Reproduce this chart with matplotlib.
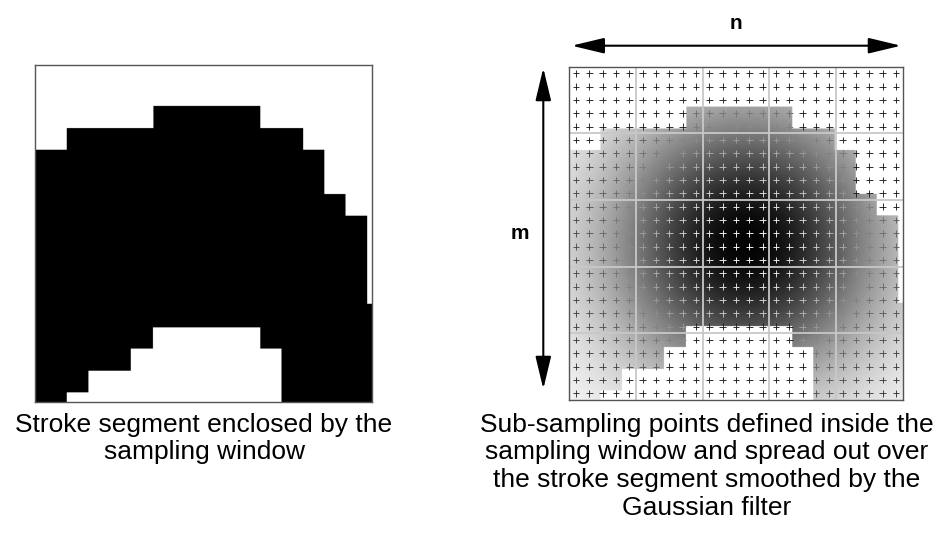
import numpy as np
import matplotlib
matplotlib.use('Agg')
import matplotlib.pyplot as plt
from matplotlib.patches import FancyArrowPatch, ArrowStyle

plt.rcParams['font.family'] = ['Liberation Sans', 'DejaVu Sans']

# ---- data: stroke segment profile inside the sampling window (fractions of window) ----
top_edges = [0.0, 0.094, 0.351, 0.668, 0.796, 0.858, 0.922, 0.986, 1.0]
top_depth = [0.252, 0.187, 0.121, 0.187, 0.251, 0.383, 0.447, 0.709]
bottom_edges = [0.094, 0.158, 0.285, 0.350, 0.668, 0.732]
bottom_height = [0.028, 0.093, 0.158, 0.222, 0.158]

n_points = 25          # sub-sampling points per side
block = 5              # points per major cell
gauss_center = (0.53, 0.53)
gauss_sigma = 0.29
gauss_peak = 0.99

left_caption = ["Stroke segment enclosed by the", "sampling window"]
right_caption = ["Sub-sampling points defined inside the",
                 "sampling window and spread out over",
                 "the stroke segment smoothed by the",
                 "Gaussian filter"]
label_n = "n"
label_m = "m"

W, H = 942, 533


def stroke_mask(u, v):
    td = np.array(top_depth)
    ti = np.clip(np.searchsorted(top_edges, u, side='right') - 1, 0, len(td) - 1)
    white_top = v < td[ti]
    bh_arr = np.array(bottom_height)
    bi = np.searchsorted(bottom_edges, u, side='right') - 1
    valid = (bi >= 0) & (bi < len(bh_arr))
    bh = np.where(valid, bh_arr[np.clip(bi, 0, len(bh_arr) - 1)], 0.0)
    white_bot = v > 1 - bh
    return ~(white_top | white_bot)


def smoothed(u, v):
    m = stroke_mask(u, v)
    d2 = (u - gauss_center[0]) ** 2 + (v - gauss_center[1]) ** 2
    g = 1 - gauss_peak * np.exp(-d2 / (2 * gauss_sigma ** 2))
    return np.where(m, g, 1.0)


R = 700
c = (np.arange(R) + 0.5) / R
U, V = np.meshgrid(c, c)

fig = plt.figure(figsize=(W / 100, H / 100), dpi=100)


def box(x0, y0, x1, y1):
    return [x0 / W, 1 - y1 / H, (x1 - x0) / W, (y1 - y0) / H]


# ---- left panel ----
axl = fig.add_axes(box(35, 65, 372, 402))
binary = np.where(stroke_mask(U, V), 0.0, 1.0)
axl.imshow(binary, cmap='gray', vmin=0, vmax=1, extent=(0, 1, 1, 0),
           interpolation='antialiased')
axl.set_xlim(0, 1)
axl.set_ylim(1, 0)
axl.set_xticks([])
axl.set_yticks([])
for s in axl.spines.values():
    s.set_color('#555555')
    s.set_linewidth(1.0)

# ---- right panel ----
axr = fig.add_axes(box(569, 66.7, 903, 400))
img = smoothed(U, V)
axr.imshow(img, cmap='gray', vmin=0, vmax=1, extent=(0, n_points, n_points, 0),
           interpolation='antialiased')
for k in range(block, n_points, block):
    axr.axvline(k, color='#c8c8c8', lw=1.3, zorder=2)
    axr.axhline(k, color='#c8c8c8', lw=1.3, zorder=2)
pi = np.arange(n_points) + 0.5
PX, PY = np.meshgrid(pi, pi)
bg = smoothed(PX / n_points, PY / n_points)
mcol = 0.12 + 0.88 * (1 - bg)
axr.scatter(PX.ravel(), PY.ravel(), c=mcol.ravel(), cmap='gray', vmin=0, vmax=1,
            marker='+', s=22, linewidths=0.65, zorder=3)
axr.set_xlim(0, n_points)
axr.set_ylim(n_points, 0)
axr.set_xticks([])
axr.set_yticks([])
for s in axr.spines.values():
    s.set_color('#555555')
    s.set_linewidth(1.0)

# ---- overlay for arrows and captions ----
axo = fig.add_axes([0, 0, 1, 1], zorder=5)
axo.set_xlim(0, W)
axo.set_ylim(H, 0)
axo.axis('off')
axo.patch.set_alpha(0)

style = ArrowStyle('<|-|>', head_length=20, head_width=4.8)
axo.add_patch(FancyArrowPatch((571.7, 45.7), (901, 45.7), arrowstyle=style,
                              mutation_scale=1, lw=1.5, color='black',
                              shrinkA=0, shrinkB=0))
axo.add_patch(FancyArrowPatch((543.3, 68), (543.3, 389), arrowstyle=style,
                              mutation_scale=1, lw=1.5, color='black',
                              shrinkA=0, shrinkB=0))
axo.text(736, 29.3, label_n, ha='center', va='baseline', fontsize=15, fontweight='bold')
axo.text(520, 239, label_m, ha='center', va='baseline', fontsize=15, fontweight='bold')

for line, y in zip(left_caption, [431.7, 458.5]):
    axo.text(204, y, line, ha='center', va='baseline', fontsize=19)
for line, y in zip(right_caption, [431.7, 459.5, 487.3, 515]):
    axo.text(707, y, line, ha='center', va='baseline', fontsize=19)

fig.savefig('out.png', dpi=100)
